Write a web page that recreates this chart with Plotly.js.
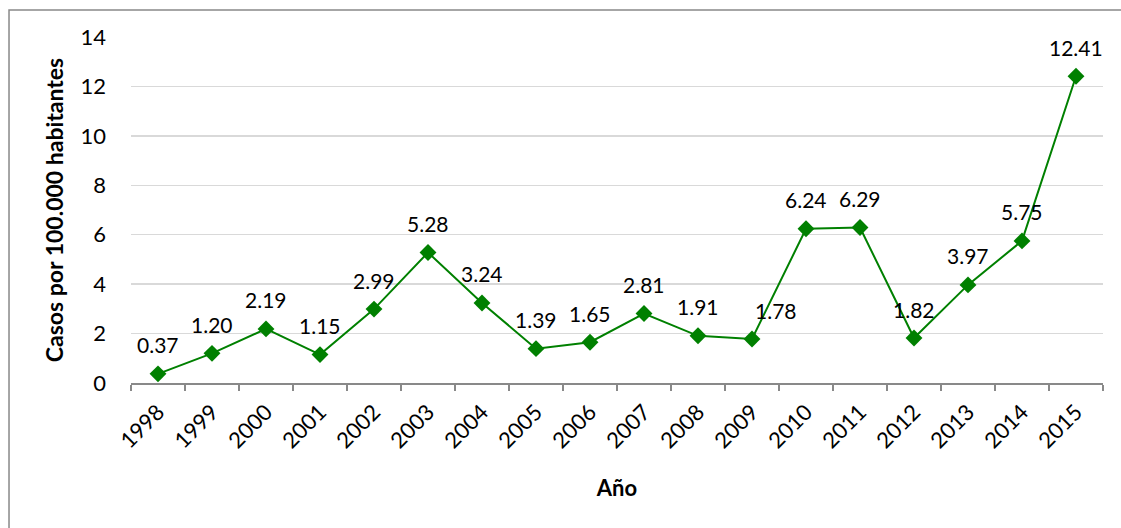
<!DOCTYPE html>
<html>
<head>
<meta charset="utf-8">
<script src="https://cdn.plot.ly/plotly-3.0.1.min.js"></script>
<style>
  html, body { margin: 0; padding: 0; background: #ffffff; }
  #chart { width: 1121px; height: 528px; }
</style>
</head>
<body>
<div id="chart"></div>
<script>
const years = ["1998","1999","2000","2001","2002","2003","2004","2005","2006","2007","2008","2009","2010","2011","2012","2013","2014","2015"];
const rates = [0.37, 1.20, 2.19, 1.15, 2.99, 5.28, 3.24, 1.39, 1.65, 2.81, 1.91, 1.78, 6.24, 6.29, 1.82, 3.97, 5.75, 12.41];
const yTicks = [0, 2, 4, 6, 8, 10, 12, 14];
const yTitle = "Casos por 100.000 habitantes";
const xTitle = "Año";

const green = "#008000";
const font = "Lato, 'Open Sans', sans-serif";

const annotations = years.map((yr, i) => ({
  x: i, y: rates[i], xref: "x", yref: "y",
  text: rates[i].toFixed(2),
  showarrow: false,
  yshift: 29,
  xshift: yr === "2009" ? 24 : 0,
  font: { family: font, size: 21, color: "#000000" }
}));

const trace = {
  x: years, y: rates,
  type: "scatter", mode: "lines+markers",
  line: { color: green, width: 2 },
  marker: { symbol: "diamond", size: 13, color: green },
  hoverinfo: "skip",
  cliponaxis: false
};

const layout = {
  width: 1121, height: 528,
  margin: { l: 131, r: 18, t: 37, b: 145 },
  paper_bgcolor: "#ffffff", plot_bgcolor: "#ffffff",
  showlegend: false,
  font: { family: font, size: 20, color: "#000000" },
  xaxis: {
    type: "category",
    categoryorder: "array", categoryarray: years,
    range: [-0.5, years.length - 0.5], autorange: false,
    tickangle: -45,
    ticks: "outside", tickson: "boundaries", ticklen: 6, tickwidth: 1.5, tickcolor: "#898989",
    ticklabelstandoff: 6,
    showline: true, linecolor: "#898989", linewidth: 1.5,
    showgrid: false, zeroline: false,
    tickfont: { family: font, size: 22, color: "#000000" },
    title: { text: xTitle, font: { family: font, size: 22, color: "#000000", weight: "bold" }, standoff: 28 },
    automargin: false
  },
  yaxis: {
    range: [0, 14], autorange: false, tickvals: yTicks, ticktext: yTicks.map(String),
    showline: false, zeroline: false,
    showgrid: true, gridcolor: "#d9d9d9", gridwidth: 1.5,
    ticks: "", ticklabelstandoff: 24,
    tickfont: { family: font, size: 22, color: "#000000" },
    title: { text: yTitle, font: { family: font, size: 23, color: "#000000", weight: "bold" }, standoff: 10 },
    automargin: false
  },
  annotations: annotations,
  shapes: [{
    type: "path", xref: "paper", yref: "paper",
    path: "M -0.1255 -0.6 L -0.1255 1.078 L 1.2 1.078",
    line: { color: "#898989", width: 1.5 }
  }]
};

Plotly.newPlot("chart", [trace], layout, { displayModeBar: false, staticPlot: true });
</script>
</body>
</html>
